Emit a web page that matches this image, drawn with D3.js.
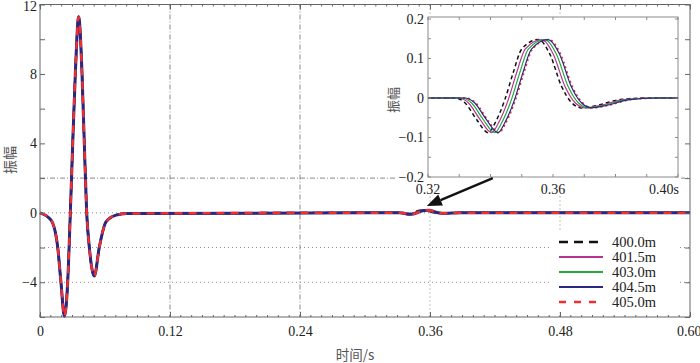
<!DOCTYPE html>
<html>
<head>
<meta charset="utf-8">
<script src="https://cdn.jsdelivr.net/npm/d3@7"></script>
<style>
  body { margin: 0; background: #fff; }
  svg { display: block; }
  text.num { font-family: "Liberation Serif", "Tinos", "DejaVu Serif", serif; font-size: 14px; fill: #222; }
  text.cjk { font-family: "Noto Sans CJK SC", sans-serif; fill: #555; }
</style>
</head>
<body>
<div id="chart"></div>
<script>
// direct pulse, shared by every offset
const pulseTime = [0, 0.0102, 0.0163, 0.0194, 0.0225, 0.0255, 0.0280, 0.0302, 0.0326, 0.0357,
                   0.0388, 0.0409, 0.0431, 0.0455, 0.0501, 0.0548, 0.0609, 0.0702, 0.0800, 0.3000];
const pulseAmp  = [0, -0.42, -1.96, -4.05, -5.95, -4.06, 0, 4, 8, 11.3,
                   8, 4, 0, -1.96, -3.64, -1.96, -0.52, -0.13, -0.04, 0];

// reflected wavelet amplitudes
const waveAmp = [0, -0.012, -0.055, -0.088, -0.064, -0.004, 0.065, 0.124, 0.148,
                 0.111, 0.030, -0.012, -0.025, -0.019, -0.004, 0];

// wavelet sample times, one list per offset
const waveTime400_0 = [0.3286, 0.3318, 0.3356, 0.3393, 0.3414, 0.3446, 0.3473, 0.3500, 0.3553, 0.3590, 0.3627, 0.3660, 0.3692, 0.3740, 0.3814, 0.3900];
const waveTime401_5 = [0.3297, 0.3329, 0.3367, 0.3404, 0.3425, 0.3457, 0.3484, 0.3511, 0.3564, 0.3601, 0.3638, 0.3671, 0.3703, 0.3751, 0.3825, 0.3911];
const waveTime403_0 = [0.3307, 0.3339, 0.3377, 0.3414, 0.3435, 0.3467, 0.3494, 0.3521, 0.3574, 0.3611, 0.3648, 0.3681, 0.3713, 0.3761, 0.3835, 0.3921];
const waveTime404_5 = [0.3317, 0.3349, 0.3387, 0.3424, 0.3445, 0.3477, 0.3504, 0.3531, 0.3584, 0.3621, 0.3658, 0.3691, 0.3723, 0.3771, 0.3845, 0.3931];
const waveTime405_0 = [0.3320, 0.3352, 0.3390, 0.3427, 0.3448, 0.3480, 0.3507, 0.3534, 0.3587, 0.3624, 0.3661, 0.3694, 0.3726, 0.3774, 0.3848, 0.3934];

const seriesNames = ["400.0m", "401.5m", "403.0m", "404.5m", "405.0m"];
const seriesWaveTimes = [waveTime400_0, waveTime401_5, waveTime403_0, waveTime404_5, waveTime405_0];
const endTime = 0.6;

const mainXTicks = [0, 0.12, 0.24, 0.36, 0.48, 0.60];
const mainYTicks = [-6, -4, -2, 0, 2, 4, 6, 8, 10, 12];
const insetXTicks = [0.32, 0.36, 0.40];
const insetYTicks = [-0.2, -0.1, 0, 0.1, 0.2];

const styles = [
    { color: "#111", width: 2.2, dash: "8,5", insetWidth: 1.5, insetDash: "4,3" },
    { color: "#b8338f", width: 2, dash: null, insetWidth: 1.2, insetDash: null },
    { color: "#25a83c", width: 2, dash: null, insetWidth: 1.2, insetDash: null },
    { color: "#2a2783", width: 3, dash: null, insetWidth: 1.2, insetDash: null },
    { color: "#ee3030", width: 2.4, dash: "8,6", insetWidth: 1.8, insetDash: "2,3" }
];

const width = 700, height = 363;

const series = seriesNames.map((name, i) => {
    const pts = pulseTime.map((t, j) => [t, pulseAmp[j]]);
    seriesWaveTimes[i].forEach((t, j) => pts.push([t, waveAmp[j]]));
    pts.push([endTime, 0]);
    return { name, pts, style: styles[i] };
});

const svg = d3.select("#chart").append("svg")
    .attr("width", width)
    .attr("height", height);

const x = d3.scaleLinear().domain([0, 0.6]).range([40, 690]);
const y = d3.scaleLinear().domain([-6, 12]).range([317, 4.5]);

const xi = d3.scaleLinear().domain([0.32, 0.40]).range([428, 678]);
const yi = d3.scaleLinear().domain([-0.2, 0.2]).range([177, 19]);

const gridColor = "#8a8a8a";

function drawGrid() {
    const g = svg.append("g");
    const hLines = [{ v: 2, dash: "5,2,1,2" }, { v: 0, dash: "1,3" }, { v: -2, dash: "1,3" }, { v: -4, dash: "1,3" }];
    g.selectAll(".hgrid").data(hLines).join("line")
        .attr("x1", x(0)).attr("x2", x(0.6))
        .attr("y1", d => y(d.v)).attr("y2", d => y(d.v))
        .attr("stroke", gridColor).attr("stroke-dasharray", d => d.dash);
    const vLines = [{ v: 0.12, dash: "5,2,1,2" }, { v: 0.24, dash: "5,2,1,2" }, { v: 0.36, dash: "1,3" }, { v: 0.48, dash: "1,3" }];
    g.selectAll(".vgrid").data(vLines).join("line")
        .attr("x1", d => x(d.v)).attr("x2", d => x(d.v))
        .attr("y1", y(12)).attr("y2", y(-6))
        .attr("stroke", gridColor).attr("stroke-dasharray", d => d.dash);
}

function drawMainLines() {
    const line = d3.line().x(d => x(d[0])).y(d => y(d[1])).curve(d3.curveMonotoneX);
    svg.append("g").selectAll("path").data(series).join("path")
        .attr("d", d => line(d.pts))
        .attr("fill", "none")
        .attr("stroke", d => d.style.color)
        .attr("stroke-width", d => d.style.width)
        .attr("stroke-dasharray", d => d.style.dash);
}

function drawLegend() {
    const g = svg.append("g");
    g.append("rect").attr("x", 551).attr("y", 232).attr("width", 129).attr("height", 79).attr("fill", "#fff");
    const rows = g.selectAll(".row").data(series).join("g")
        .attr("transform", (d, i) => `translate(0,${242 + i * 15})`);
    rows.append("line")
        .attr("x1", 559).attr("x2", 603).attr("y1", 0).attr("y2", 0)
        .attr("stroke", d => d.style.color)
        .attr("stroke-width", d => d.style.dash ? 2.5 : 2)
        .attr("stroke-dasharray", (d, i) => i === 0 ? "9,6" : (d.style.dash ? "7,8" : null));
    rows.append("text").attr("class", "num")
        .attr("x", 612).attr("y", 0).attr("dy", "0.35em")
        .style("font-size", "14.5px")
        .text(d => d.name);
}

function drawInset() {
    svg.append("rect").attr("x", 396).attr("y", 16).attr("width", 285).attr("height", 180).attr("fill", "#fff");
    const g = svg.append("g");
    g.append("clipPath").attr("id", "insetClip")
        .append("rect").attr("x", 428).attr("y", 19).attr("width", 250).attr("height", 158);
    g.append("rect").attr("x", 428).attr("y", 17).attr("width", 250).attr("height", 160)
        .attr("fill", "none").attr("stroke", "#8a8a8a");

    const line = d3.line().x(d => xi(d[0])).y(d => yi(d[1])).curve(d3.curveMonotoneX);
    g.append("g").attr("clip-path", "url(#insetClip)")
        .selectAll("path").data([series[4], series[0], series[1], series[2], series[3]]).join("path")
        .attr("d", d => line(d.pts))
        .attr("fill", "none")
        .attr("stroke", d => d.style.color)
        .attr("stroke-width", d => d.style.insetWidth)
        .attr("stroke-dasharray", d => d.style.insetDash);

    // inward ticks on all four sides
    const tk = g.append("g").attr("stroke", "#8a8a8a");
    d3.range(0.32, 0.4001, 0.01).forEach(t => {
        tk.append("line").attr("x1", xi(t)).attr("x2", xi(t)).attr("y1", 177).attr("y2", 174);
        tk.append("line").attr("x1", xi(t)).attr("x2", xi(t)).attr("y1", 17).attr("y2", 20);
    });
    d3.range(-0.2, 0.2001, 0.05).forEach(v => {
        tk.append("line").attr("x1", 428).attr("x2", 431).attr("y1", yi(v)).attr("y2", yi(v));
        tk.append("line").attr("x1", 678).attr("x2", 675).attr("y1", yi(v)).attr("y2", yi(v));
    });

    g.selectAll(".iy").data(insetYTicks).join("text").attr("class", "num")
        .attr("x", 424).attr("y", d => yi(d)).attr("dy", "0.35em")
        .attr("text-anchor", "end")
        .text(d => d === 0 ? "0" : d3.format(".1f")(d));
    g.selectAll(".ix").data(insetXTicks).join("text").attr("class", "num")
        .attr("x", (d, i) => i === insetXTicks.length - 1 ? xi(d) + 1 : xi(d))
        .attr("y", 194)
        .attr("text-anchor", (d, i) => i === insetXTicks.length - 1 ? "end" : "middle")
        .text((d, i) => d3.format(".2f")(d) + (i === insetXTicks.length - 1 ? "s" : ""));

    g.append("text").attr("class", "cjk")
        .attr("transform", "translate(398,100) rotate(-90)")
        .attr("text-anchor", "middle")
        .style("font-size", "13px")
        .text("振幅");
}

function drawArrow() {
    const tail = [x(0.418), y(2)];
    const tip = [x(0.357), y(0.4)];
    const dx = tip[0] - tail[0], dy = tip[1] - tail[1];
    const len = Math.hypot(dx, dy);
    const ux = dx / len, uy = dy / len;
    const headLen = 15, headHalf = 6;
    const base = [tip[0] - ux * headLen, tip[1] - uy * headLen];
    svg.append("line")
        .attr("x1", tail[0]).attr("y1", tail[1])
        .attr("x2", base[0]).attr("y2", base[1])
        .attr("stroke", "#111").attr("stroke-width", 2.4);
    svg.append("polygon")
        .attr("points", [
            tip,
            [base[0] - uy * headHalf, base[1] + ux * headHalf],
            [base[0] + uy * headHalf, base[1] - ux * headHalf]
        ].map(p => p.join(",")).join(" "))
        .attr("fill", "#111");
}

function drawAxes() {
    const frameColor = "#666";
    svg.append("rect")
        .attr("x", x(0)).attr("y", y(12))
        .attr("width", x(0.6) - x(0)).attr("height", y(-6) - y(12))
        .attr("fill", "none").attr("stroke", frameColor);

    const left = svg.append("g").attr("transform", `translate(${x(0)},0)`)
        .call(d3.axisLeft(y).tickValues(mainYTicks).tickSizeInner(-5).tickSizeOuter(0).tickPadding(3)
            .tickFormat(d => d % 4 === 0 ? d3.format("d")(d) : ""));
    const right = svg.append("g").attr("transform", `translate(${x(0.6)},0)`)
        .call(d3.axisRight(y).tickValues(mainYTicks).tickSizeInner(-5).tickSizeOuter(0).tickFormat(""));
    const bottom = svg.append("g").attr("transform", `translate(0,${y(-6)})`)
        .call(d3.axisBottom(x).tickValues(mainXTicks).tickSizeInner(-5).tickSizeOuter(0).tickPadding(9)
            .tickFormat(d => d === 0 ? "0" : d3.format(".2f")(d)));
    const top = svg.append("g").attr("transform", `translate(0,${y(12)})`)
        .call(d3.axisTop(x).tickValues(mainXTicks).tickSizeInner(-5).tickSizeOuter(0).tickFormat(""));

    [left, right, bottom, top].forEach(a => {
        a.attr("font-family", null).attr("font-size", null);
        a.select(".domain").remove();
        a.selectAll(".tick line").attr("stroke", frameColor);
        a.selectAll("text").attr("class", "num").attr("fill", null);
    });
    // keep the top label and the last time label inside the page
    left.selectAll(".tick text").filter(d => d === 12).attr("dy", "0.45em");
    bottom.selectAll(".tick text").filter(d => d === 0.60).attr("text-anchor", "end").attr("x", 11);

    // fine minor ticks along the time axis
    const minor = svg.append("g").attr("stroke", frameColor);
    d3.range(0, 0.6001, 0.01).forEach(t => {
        minor.append("line").attr("x1", x(t)).attr("x2", x(t)).attr("y1", y(-6)).attr("y2", y(-6) - 2);
        minor.append("line").attr("x1", x(t)).attr("x2", x(t)).attr("y1", y(12)).attr("y2", y(12) + 2);
    });

    svg.append("text").attr("class", "cjk")
        .attr("x", 355).attr("y", 359.5)
        .attr("text-anchor", "middle")
        .style("font-size", "13.5px")
        .text("时间/s");
    svg.append("text").attr("class", "cjk")
        .attr("transform", "translate(15,160) rotate(-90)")
        .attr("text-anchor", "middle")
        .style("font-size", "14px")
        .text("振幅");
}

drawGrid();
drawMainLines();
drawLegend();
drawInset();
drawArrow();
drawAxes();
</script>
</body>
</html>
